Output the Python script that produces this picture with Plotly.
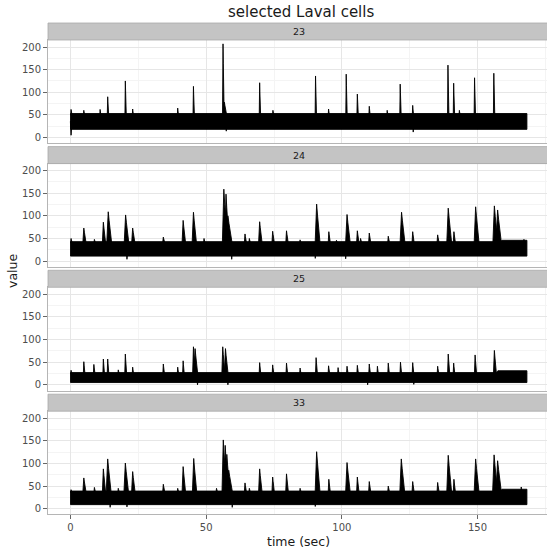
import plotly.graph_objects as go

# ---------------- data ----------------
cells = ["23", "24", "25", "33"]
x_ticks = [0, 50, 100, 150]
y_ticks = [0, 50, 100, 150, 200]

# cell 23
c23_band_t = [0, 168.2]
c23_band_hi = [53, 53]
c23_band_lo = 18
c23_peak_t = [0.2, 4.9, 10.9, 13.7, 20.2, 22.9, 39.5, 45.3, 56.2, 56.7, 69.7, 74.6,
              90.3, 95.1, 101.6, 105.7, 110.1, 116.7, 121.5, 126.1, 139.1, 141.2,
              143.3, 148.9, 156.0]
c23_peak_v = [62, 60, 62, 90, 125, 63, 65, 113, 207, 78, 121, 60,
              136, 63, 140, 96, 69, 60, 118, 71, 160, 120,
              60, 132, 142]
c23_peak_w = [0.5, 0.4, 0.4, 0.5, 0.5, 0.4, 0.4, 0.5, 0.6, 1.2, 0.5, 0.4,
              0.5, 0.4, 0.5, 0.5, 0.45, 0.4, 0.5, 0.45, 0.5, 0.5,
              0.4, 0.5, 0.5]
c23_dip_t = [0.2, 57.4, 126.3]
c23_dip_v = [5, 14, 12]

# cell 24
c24_band_t = [0, 158.5, 159.0, 168.2]
c24_band_hi = [43, 43, 46, 46]
c24_band_lo = 11
c24_peak_t = [0.2, 4.9, 8.8, 12.1, 13.9, 20.3, 22.9, 34.2, 41.5, 45.3, 49.2,
              56.5, 57.3, 58.0, 64.3, 65.9, 69.7, 74.5, 79.6, 84.6, 90.7, 95.2,
              98.0, 101.9, 105.7, 106.9, 110.1, 117.1, 122.0, 126.1, 135.3,
              139.2, 141.3, 149.3, 156.2, 157.4, 167.1]
c24_peak_v = [50, 73, 48, 86, 109, 102, 73, 53, 90, 108, 50,
              159, 148, 100, 60, 50, 87, 66, 67, 47, 126, 65,
              46, 103, 67, 50, 62, 55, 108, 65, 58,
              117, 65, 120, 122, 113, 48]
c24_peak_w = [0.6, 1.2, 0.6, 1.2, 1.8, 1.7, 1.2, 0.8, 1.3, 1.6, 0.6,
              1.8, 1.6, 2.2, 0.8, 0.6, 1.3, 0.9, 0.9, 0.6, 1.8, 0.8,
              0.6, 1.7, 0.9, 0.6, 0.8, 0.7, 1.8, 0.8, 0.8,
              1.8, 0.8, 1.8, 1.8, 2.0, 0.6]
c24_dip_t = [20.8, 59.4, 90.2, 101.4]
c24_dip_v = [4, 4, 6, 5]

# cell 25
c25_band_t = [0, 157.0, 157.5, 168.2]
c25_band_hi = [27, 27, 31, 31]
c25_band_lo = 5
c25_peak_t = [0.2, 4.9, 8.6, 12.1, 13.7, 17.6, 20.2, 22.9, 34.2, 39.5, 41.5,
              45.3, 45.9, 56.1, 57.1, 69.7, 74.5, 79.6, 84.6, 90.5, 95.1,
              98.6, 101.9, 105.7, 110.1, 113.1, 117.1, 121.6, 126.1, 135.3,
              139.2, 141.2, 149.1, 156.2]
c25_peak_v = [32, 51, 45, 57, 57, 33, 68, 39, 46, 39, 53,
              84, 80, 84, 80, 49, 44, 48, 37, 60, 42,
              38, 41, 43, 46, 41, 48, 50, 49, 41,
              68, 48, 66, 76]
c25_peak_w = [0.5, 0.6, 0.6, 0.6, 0.6, 0.5, 0.7, 0.5, 0.6, 0.5, 0.6,
              1.0, 1.4, 1.1, 1.4, 0.6, 0.6, 0.6, 0.5, 0.7, 0.6,
              0.5, 0.6, 0.6, 0.6, 0.5, 0.6, 0.6, 0.6, 0.6,
              0.8, 0.6, 0.8, 1.1]
c25_dip_t = [46.8, 58.0, 109.5, 126.5]
c25_dip_v = [0, 0, 0, 1]

# cell 33
c33_band_t = [0, 158.5, 159.0, 168.2]
c33_band_hi = [39, 39, 43, 43]
c33_band_lo = 9
c33_peak_t = [0.2, 4.9, 8.8, 12.1, 13.7, 17.6, 20.2, 22.9, 34.2, 39.5, 41.5,
              45.4, 53.8, 56.3, 57.0, 57.6, 58.3, 64.3, 65.9, 69.7, 74.5,
              79.6, 84.6, 90.7, 95.2, 101.9, 105.7, 110.1, 117.1, 121.9, 126.1,
              135.3, 139.2, 141.3, 149.3, 156.1, 157.4, 166.1]
c33_peak_v = [42, 68, 47, 88, 110, 45, 101, 82, 54, 45, 93,
              111, 45, 152, 140, 120, 85, 57, 45, 88, 70,
              77, 45, 126, 65, 102, 70, 60, 50, 110, 60,
              58, 118, 65, 110, 119, 106, 48]
c33_peak_w = [0.6, 1.2, 0.6, 1.2, 1.8, 0.6, 1.7, 1.3, 0.8, 0.6, 1.3,
              1.6, 0.6, 1.6, 1.6, 1.6, 2.0, 0.8, 0.6, 1.3, 0.9,
              1.0, 0.6, 1.8, 0.8, 1.7, 0.9, 0.8, 0.7, 1.8, 0.8,
              0.8, 1.8, 0.8, 1.8, 1.8, 2.0, 0.6]
c33_dip_t = [14.6, 20.8, 59.6, 90.2]
c33_dip_v = [3, 4, 3, 5]

series = {
    "23": (c23_band_t, c23_band_hi, c23_band_lo, c23_peak_t, c23_peak_v, c23_peak_w, c23_dip_t, c23_dip_v),
    "24": (c24_band_t, c24_band_hi, c24_band_lo, c24_peak_t, c24_peak_v, c24_peak_w, c24_dip_t, c24_dip_v),
    "25": (c25_band_t, c25_band_hi, c25_band_lo, c25_peak_t, c25_peak_v, c25_peak_w, c25_dip_t, c25_dip_v),
    "33": (c33_band_t, c33_band_hi, c33_band_lo, c33_peak_t, c33_peak_v, c33_peak_w, c33_dip_t, c33_dip_v),
}

# ---------------- layout geometry (pixels) ----------------
W, H = 547, 549
LEFT = 48
panel_tops = [40.0, 163.6, 287.3, 411.2]
panel_h = 103.2
strip_h = 17.0
x_range = [-8.3, 175.6]
y_range = [-12.6, 215.5]
FONT = "DejaVu Sans, Verdana, sans-serif"


def shapes_for(cell):
    """Closed outlines (all with the same winding) for one cell's trace."""
    bt, bhi, lo, pt, pv, pw, dt, dv = series[cell]
    xs, ys = [], []
    xs += list(bt) + list(bt[::-1]) + [bt[0], None]
    ys += list(bhi) + [lo] * len(bt) + [bhi[0], None]
    base = min(bhi) - 3
    for t, v, w in zip(pt, pv, pw):
        h = v - base
        xs += [max(t - 0.3 * w, 0), t - 0.1 * w, t, t + 0.18 * w, t + 0.7 * w, max(t - 0.3 * w, 0), None]
        ys += [base, base + 0.8 * h, v, base + 0.72 * h, base, base, None]
    anchor = (lo + min(bhi)) / 2
    for t, v in zip(dt, dv):
        xs += [t + 0.35, t, t - 0.25, t + 0.35, None]
        ys += [anchor, v, anchor, anchor, None]
    return xs, ys


fig = go.Figure()
for i, cell in enumerate(cells):
    xs, ys = shapes_for(cell)
    k = "" if i == 0 else str(i + 1)
    fig.add_trace(go.Scatter(
        x=xs, y=ys, mode="lines", fill="toself", fillcolor="black",
        line=dict(color="black", width=0.9), xaxis="x" + k, yaxis="y" + k,
        hoverinfo="skip", showlegend=False))

layout = dict(
    template="none",
    width=W, height=H,
    margin=dict(l=LEFT, r=0, t=0, b=0, autoexpand=False),
    paper_bgcolor="white", plot_bgcolor="white",
    font=dict(family=FONT, color="#4d4d4d"),
    showlegend=False,
)
shapes, annotations = [], []
pw_paper = W - LEFT
for i, cell in enumerate(cells):
    k = "" if i == 0 else str(i + 1)
    top = panel_tops[i]
    bot = top + panel_h
    dom = [(H - bot) / H, (H - top) / H]
    layout["yaxis" + k] = dict(
        domain=dom, range=y_range, tickvals=y_ticks, ticks="outside", ticklen=4,
        tickcolor="#666666", tickwidth=1, tickfont=dict(size=10, color="#4d4d4d"),
        showgrid=True, gridcolor="#e6e6e6", gridwidth=0.8, zeroline=False,
        showline=True, mirror=True, linecolor="#b5b5b5", linewidth=1,
        minor=dict(dtick=25, tick0=0, showgrid=True, gridcolor="#f4f4f4", gridwidth=0.6, ticks=""),
        anchor="x" + k, fixedrange=True, automargin=False,
    )
    xa = dict(
        domain=[0, 1], range=x_range, tickvals=x_ticks, anchor="y" + k,
        showgrid=True, gridcolor="#e6e6e6", gridwidth=0.8, zeroline=False,
        showline=True, mirror=True, linecolor="#b5b5b5", linewidth=1,
        minor=dict(dtick=25, tick0=0, showgrid=True, gridcolor="#f4f4f4", gridwidth=0.6, ticks=""),
        fixedrange=True, automargin=False,
    )
    if i == len(cells) - 1:
        xa.update(ticks="outside", ticklen=4, tickcolor="#666666", tickwidth=1,
                  showticklabels=True, tickfont=dict(size=10, color="#4d4d4d"))
    else:
        xa.update(ticks="", showticklabels=False)
    if i > 0:
        xa["matches"] = "x"
    layout["xaxis" + k] = xa
    # strip
    s_top = (H - (top - strip_h)) / H
    s_bot = (H - top) / H
    shapes.append(dict(type="rect", xref="paper", yref="paper", x0=0, x1=1.01,
                       y0=s_bot, y1=s_top, fillcolor="#c4c4c4",
                       line=dict(color="#a9a9a9", width=0.8), layer="above"))
    annotations.append(dict(text=cell, xref="paper", yref="paper",
                            x=(298.7 - LEFT) / pw_paper, y=(s_top + s_bot) / 2,
                            xanchor="center", yanchor="middle", showarrow=False,
                            font=dict(size=9.5, color="#1a1a1a", family=FONT)))

annotations.append(dict(text="selected Laval cells", xref="paper", yref="paper",
                        x=(301 - LEFT) / pw_paper, y=(H - 12.5) / H,
                        xanchor="center", yanchor="middle", showarrow=False,
                        font=dict(size=15, color="#1a1a1a", family=FONT)))
annotations.append(dict(text="time (sec)", xref="paper", yref="paper",
                        x=(298.3 - LEFT) / pw_paper, y=(H - 541.5) / H,
                        xanchor="center", yanchor="middle", showarrow=False,
                        font=dict(size=12.5, color="#1a1a1a", family=FONT)))
annotations.append(dict(text="value", xref="paper", yref="paper",
                        x=(12.5 - LEFT) / pw_paper, y=(H - 271.5) / H,
                        xanchor="center", yanchor="middle", showarrow=False, textangle=-90,
                        font=dict(size=12.5, color="#1a1a1a", family=FONT)))
layout["shapes"] = shapes
layout["annotations"] = annotations
fig.update_layout(**layout)

fig.write_html("out.html", config={"displayModeBar": False},
               post_script="document.body.style.margin='0px';document.body.style.overflow='hidden';")
